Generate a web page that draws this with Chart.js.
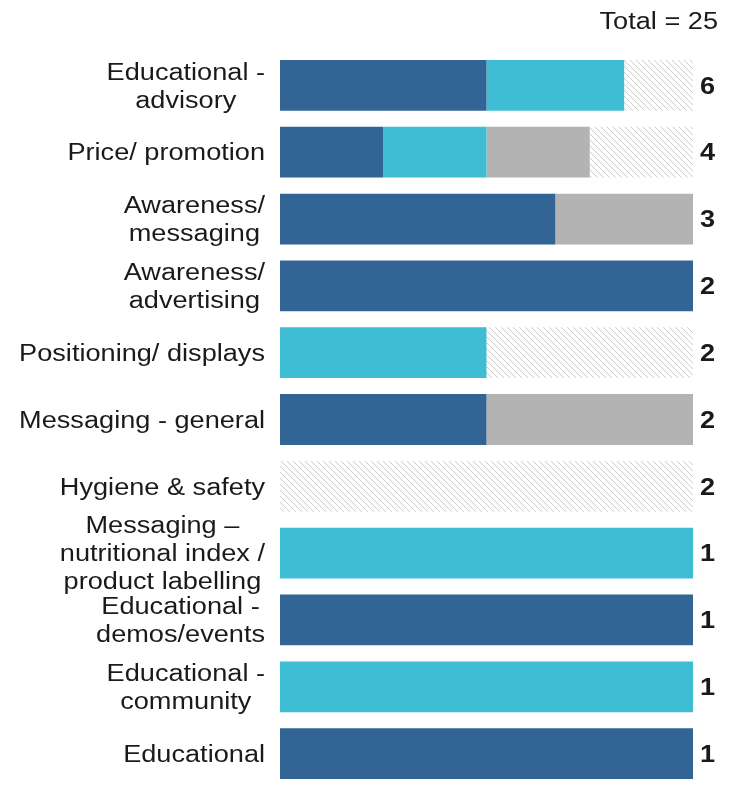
<!DOCTYPE html>
<html>
<head>
<meta charset="utf-8">
<script src="https://cdn.jsdelivr.net/npm/chart.js@4/dist/chart.umd.min.js"></script>
<style>
  body { margin: 0; background: #fff; }
</style>
</head>
<body>
<canvas id="activityChart" width="756" height="794"></canvas>
<script>
// Categorias (multi-linha quando o rótulo é longo)
const categories = [
  ["Educational -", "advisory"],
  "Price/ promotion",
  ["Awareness/", "messaging"],
  ["Awareness/", "advertising"],
  "Positioning/ displays",
  "Messaging - general",
  "Hygiene & safety",
  ["Messaging –", "nutritional index /", "product labelling"],
  ["Educational -", "demos/events"],
  ["Educational -", "community"],
  "Educational",
];

// Contagens por segmento
const navyCounts = [3, 1, 2, 2, 0, 1, 0, 0, 1, 0, 1];
const tealCounts = [2, 1, 0, 0, 1, 0, 0, 1, 0, 1, 0];
const greyCounts = [0, 1, 1, 0, 0, 1, 0, 0, 0, 0, 0];
const hatchCounts = [1, 1, 0, 0, 1, 0, 2, 0, 0, 0, 0];

const totals = categories.map(
  (_, i) => navyCounts[i] + tealCounts[i] + greyCounts[i] + hatchCounts[i]
);
const grandTotal = totals.reduce((a, b) => a + b, 0);

// Barras a 100%
const share = (counts) => counts.map((v, i) => (v / totals[i]) * 100);

// Padrão tracejado diagonal
function makeHatch() {
  const size = 6;
  const c = document.createElement("canvas");
  c.width = size;
  c.height = size;
  const g = c.getContext("2d");
  g.fillStyle = "#ffffff";
  g.fillRect(0, 0, size, size);
  g.strokeStyle = "#cccccc";
  g.lineWidth = 1;
  [-size, 0, size].forEach((k) => {
    g.beginPath();
    g.moveTo(k, 0);
    g.lineTo(k + size, size);
    g.stroke();
  });
  return g.createPattern(c, "repeat");
}

const STRETCH = 1.18;
const FONT = "'Liberation Sans', Arial, sans-serif";

function stretchedText(ctx, text, x, y) {
  ctx.save();
  ctx.translate(x, y);
  ctx.scale(STRETCH, 1);
  ctx.fillText(text, 0, 0);
  ctx.restore();
}

// Rótulos, totais por linha e total geral
const labelsPlugin = {
  id: "labelsPlugin",
  afterDraw(chart) {
    const ctx = chart.ctx;
    const yScale = chart.scales.y;
    const area = chart.chartArea;
    const lineHeight = 28;
    const capOffset = 8.2;

    ctx.save();
    ctx.fillStyle = "#1a1a1a";
    ctx.textBaseline = "alphabetic";

    categories.forEach((label, i) => {
      const lines = Array.isArray(label) ? label : [label];
      const yc = yScale.getPixelForTick(i);

      ctx.font = "23px " + FONT;
      const widths = lines.map((l) => ctx.measureText(l).width * STRETCH);
      const blockW = Math.max(...widths);
      const right = area.left - 15;
      const center = right - blockW / 2;
      lines.forEach((l, j) => {
        const y = yc + (j - (lines.length - 1) / 2) * lineHeight + capOffset;
        stretchedText(ctx, l, center - widths[j] / 2, y);
      });

      ctx.font = "bold 23px " + FONT;
      stretchedText(ctx, String(totals[i]), area.right + 7, yc + capOffset);
    });

    ctx.font = "23px " + FONT;
    const totalText = "Total = " + grandTotal;
    const tw = ctx.measureText(totalText).width * STRETCH;
    stretchedText(ctx, totalText, 718 - tw, 29);
    ctx.restore();
  },
};

const ctx = document.getElementById("activityChart").getContext("2d");
const activityChart = new Chart(ctx, {
  type: "bar",
  data: {
    labels: categories,
    datasets: [
      { data: share(navyCounts), backgroundColor: "#326496" },
      { data: share(tealCounts), backgroundColor: "#3fbdd5" },
      { data: share(greyCounts), backgroundColor: "#b3b3b3" },
      { data: share(hatchCounts), backgroundColor: makeHatch() },
    ],
  },
  options: {
    indexAxis: "y",
    responsive: false,
    animation: false,
    layout: {
      padding: { top: 52, right: 63, bottom: 7, left: 0 },
    },
    datasets: {
      bar: {
        categoryPercentage: 1,
        barPercentage: 0.76,
        borderWidth: 0,
      },
    },
    scales: {
      x: {
        stacked: true,
        min: 0,
        max: 100,
        display: false,
      },
      y: {
        stacked: true,
        grid: { display: false },
        border: { display: false },
        ticks: { display: false },
        afterFit(scale) {
          scale.width = 280;
        },
      },
    },
    plugins: {
      legend: { display: false },
      tooltip: { enabled: false },
    },
  },
  plugins: [labelsPlugin],
});
</script>
</body>
</html>
